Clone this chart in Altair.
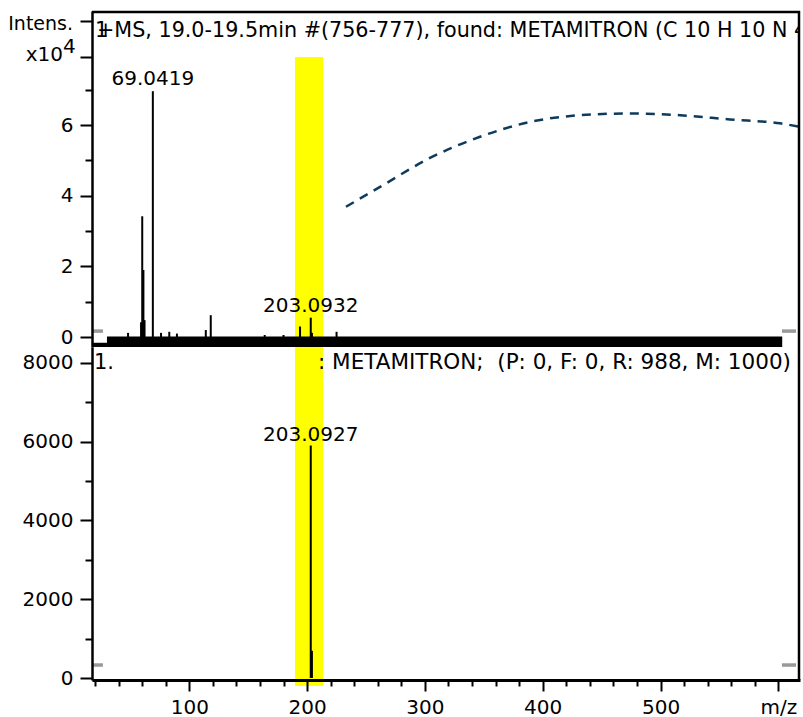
import altair as alt
import pandas as pd

FONT = "DejaVu Sans"

# ---------------- values ----------------
x_min, x_max = 17.4, 618.4
top_y_min, top_y_max = -0.28, 9.23          # x10^4 intensity
bot_y_min, bot_y_max = -50, 8400

# measured spectrum (top panel, intensity in units of 10^4)
top_mz = [48.0, 59.05, 60.04, 61.04, 62.0, 69.0419, 76.0, 83.0, 89.5, 114.0,
          118.2, 164.0, 180.0, 194.0, 203.0932, 204.1, 225.0]
top_int = [0.12, 0.42, 3.42, 1.9, 0.48, 6.96, 0.12, 0.15, 0.1, 0.2,
           0.62, 0.06, 0.06, 0.3, 0.55, 0.12, 0.15]
top_label_mz = [69.0419, 203.0932]
top_label_int = [6.96, 0.55]
top_label_text = ["69.0419", "203.0932"]

# dense noise floor of the top spectrum
noise_start = [17.4, 30.1]
noise_end = [30.1, 603.3]
noise_low = [-0.28, -0.28]
noise_high = [-0.16, 0.02]

# reference spectrum (bottom panel)
bot_mz = [203.0927, 204.09]
bot_int = [5900, 690]
bot_label_mz = [203.0927]
bot_label_int = [5900]
bot_label_text = ["203.0927"]

# dashed arc (top panel units)
curve_mz = [233.0, 261.9, 304.3, 346.8, 389.2, 431.6, 474.0, 516.5, 558.9, 601.4, 618.4]
curve_int = [3.69, 4.25, 5.07, 5.67, 6.09, 6.28, 6.33, 6.28, 6.16, 6.05, 5.95]

# highlighted m/z window
band_start = [189.7]
band_end = [213.5]
band_top_upper = [7.93]
band_bottom_upper = [-0.28]
band_top_lower = [8400]
band_bottom_lower = [-200]

# threshold markers
thr_top_x1 = [18.3, 603.1]
thr_top_x2 = [26.7, 615.0]
thr_top_y = [0.17, 0.17]
thr_bot_x1 = [18.3, 603.1]
thr_bot_x2 = [26.7, 615.0]
thr_bot_y = [330, 330]

NB = "\u00a0"
top_title_1 = "1"
top_title_2 = "+MS, 19.0-19.5min #(756-777), found: METAMITRON (C 10 H 10 N 4 O)"
bot_title_1 = "1."
bot_title_2 = ": METAMITRON;" + NB + NB + "(P: 0, F: 0, R: 988, M: 1000)"

# ---------------- layout ----------------
W = 708
H_TOP = 336
H_BOT = 333

xscale = alt.Scale(domain=[x_min, x_max], nice=False, zero=False)
ys_top = alt.Scale(domain=[top_y_min, top_y_max], nice=False, zero=False)
ys_bot = alt.Scale(domain=[bot_y_min, bot_y_max], nice=False, zero=False)

axis_common = dict(
    title=None, grid=False, domainColor="black", tickColor="black",
    tickWidth=2, labelFont=FONT, labelFontSize=20, labelColor="black",
    zindex=1,
)

top_yaxis = alt.Axis(
    values=[0, 1, 2, 3, 4, 5, 6, 7, 7.93, 8.95],
    labelExpr="(datum.value==0||datum.value==2||datum.value==4||datum.value==6) ? datum.label : ''",
    tickSize={"condition": {"test": "datum.value==1||datum.value==3||datum.value==5||datum.value==7", "value": 7}, "value": 12},
    labelPadding=7, domainWidth=2.5, **axis_common,
)
bot_yaxis = alt.Axis(
    values=list(range(0, 8001, 1000)), format="d",
    labelExpr="datum.value % 2000 == 0 ? datum.label : ''",
    tickSize={"condition": {"test": "datum.value % 2000 != 0", "value": 7}, "value": 12},
    labelPadding=7, domainWidth=2.5, **axis_common,
)
bot_xaxis = alt.Axis(
    values=list(range(20, 601, 20)),
    labelExpr="datum.value == 600 ? 'm/z' : (datum.value % 100 == 0 ? datum.label : '')",
    tickSize={"condition": {"test": "datum.value % 100 == 0", "value": 11}, "value": 6},
    labelPadding=6, domainWidth=3, labelFlush=False, **axis_common,
)

one = pd.DataFrame({"k": [0]})


def txt(text, x, y, align="left", size=20, clip=False):
    return alt.Chart(pd.DataFrame({"t": [text]})).mark_text(
        font=FONT, fontSize=size, color="black", align=align,
        baseline="alphabetic", clip=clip,
    ).encode(text="t:N", x=alt.value(x), y=alt.value(y))


def xt(field):
    return alt.X(field, scale=xscale, axis=None)


def yt(field):
    return alt.Y(field, scale=ys_top, axis=top_yaxis)


def xb(field):
    return alt.X(field, scale=xscale, axis=bot_xaxis)


def yb(field):
    return alt.Y(field, scale=ys_bot, axis=bot_yaxis)


# ---------------- top panel ----------------
band_top = alt.Chart(pd.DataFrame({"s": band_start, "e": band_end, "t": band_top_upper, "b": band_bottom_upper})).mark_rect(
    color="#ffff00").encode(x=xt("s:Q"), x2="e:Q", y=yt("t:Q"), y2="b:Q")

noise = alt.Chart(pd.DataFrame({"s": noise_start, "e": noise_end, "lo": noise_low, "hi": noise_high})).mark_rect(
    color="black").encode(x=xt("s:Q"), x2="e:Q", y=yt("hi:Q"), y2="lo:Q")

peaks_top = alt.Chart(pd.DataFrame({"mz": top_mz, "intensity": top_int, "zero": [0] * len(top_mz)})).mark_rule(
    color="black", strokeWidth=2).encode(x=xt("mz:Q"), y=yt("intensity:Q"), y2="zero:Q")

labels_top = alt.Chart(pd.DataFrame({"mz": top_label_mz, "intensity": top_label_int, "lab": top_label_text})).mark_text(
    font=FONT, fontSize=20, color="black", baseline="alphabetic", dy=-6).encode(
    x=xt("mz:Q"), y=yt("intensity:Q"), text="lab:N")

curve = alt.Chart(pd.DataFrame({"mz": curve_mz, "v": curve_int})).mark_line(
    color="#0e3a5c", strokeWidth=2.5, strokeDash=[9, 7], interpolate="monotone", clip=True).encode(
    x=xt("mz:Q"), y=yt("v:Q"))

thr_top = alt.Chart(pd.DataFrame({"a": thr_top_x1, "b": thr_top_x2, "y": thr_top_y})).mark_rule(
    color="#999999", strokeWidth=3.5).encode(x=xt("a:Q"), x2="b:Q", y=yt("y:Q"))

frame_top_h = alt.Chart(one).mark_rule(color="black", strokeWidth=2.5).encode(
    x=alt.value(0), x2=alt.value(W), y=alt.value(1))
frame_top_v = alt.Chart(one).mark_rule(color="black", strokeWidth=2.5).encode(
    x=alt.value(W - 1), y=alt.value(0), y2=alt.value(H_TOP))
anchor = alt.Chart(one).mark_rule(color="white", strokeWidth=1).encode(
    x=alt.value(-91.5), x2=alt.value(-90), y=alt.value(-10.5))

top = alt.layer(
    band_top, noise, peaks_top, labels_top, curve, thr_top,
    frame_top_h, frame_top_v, anchor,
    txt(top_title_1, 3, 25.7, size=20.7, clip=True),
    txt(top_title_2, 5, 25.7, size=20.7, clip=True),
    txt("Intens.", -19, 19, align="right", size=19),
    txt("x10", -29, 50, align="right"),
    txt("4", -29, 42, align="left"),
).properties(width=W, height=H_TOP)

# ---------------- bottom panel ----------------
band_bot = alt.Chart(pd.DataFrame({"s": band_start, "e": band_end, "t": band_top_lower, "b": band_bottom_lower})).mark_rect(
    color="#ffff00").encode(x=xb("s:Q"), x2="e:Q", y=yb("t:Q"), y2="b:Q")

peaks_bot = alt.Chart(pd.DataFrame({"mz": bot_mz, "intensity": bot_int, "zero": [0] * len(bot_mz)})).mark_rule(
    color="black", strokeWidth=2).encode(x=xb("mz:Q"), y=yb("intensity:Q"), y2="zero:Q")

labels_bot = alt.Chart(pd.DataFrame({"mz": bot_label_mz, "intensity": bot_label_int, "lab": bot_label_text})).mark_text(
    font=FONT, fontSize=20, color="black", baseline="alphabetic", dy=-5).encode(
    x=xb("mz:Q"), y=yb("intensity:Q"), text="lab:N")

thr_bot = alt.Chart(pd.DataFrame({"a": thr_bot_x1, "b": thr_bot_x2, "y": thr_bot_y})).mark_rule(
    color="#999999", strokeWidth=3.5).encode(x=xb("a:Q"), x2="b:Q", y=yb("y:Q"))

frame_bot_v = alt.Chart(one).mark_rule(color="black", strokeWidth=2.5).encode(
    x=alt.value(W - 1), y=alt.value(0), y2=alt.value(H_BOT))

bottom = alt.layer(
    band_bot, peaks_bot, labels_bot, thr_bot, frame_bot_v,
    txt(bot_title_1, 2, 22.3, size=21),
    txt(bot_title_2, 226, 22.3, size=21.5),
).properties(width=W, height=H_BOT)

chart = alt.vconcat(top, bottom, spacing=0, bounds="flush").properties(
    padding=0, background="white"
).configure_view(stroke=None)

chart.save("out.html", embed_options={"renderer": "svg", "actions": False})
